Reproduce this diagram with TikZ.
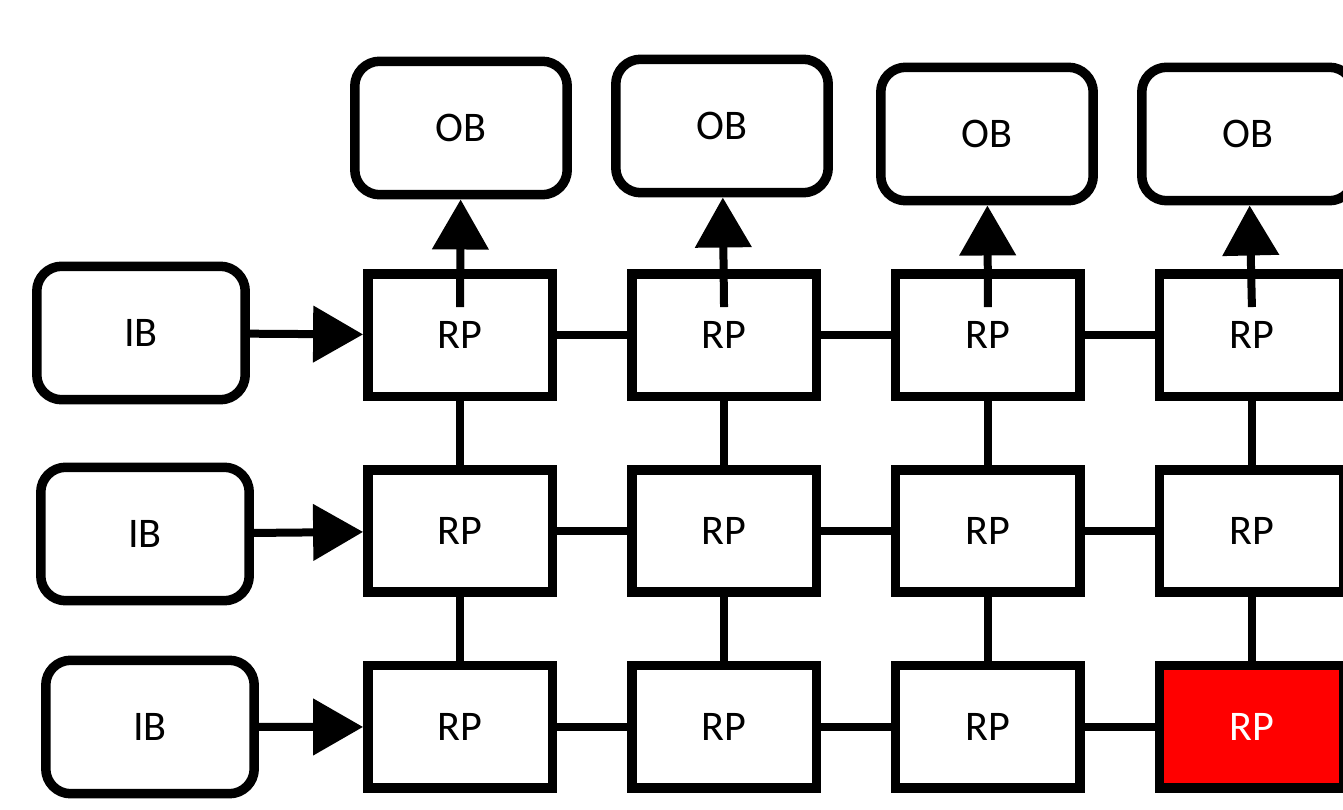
\documentclass[tikz,border=0pt]{standalone}
\usepackage{fontspec}
\setmainfont{Carlito}
\usepackage{tikz}
\usetikzlibrary{arrows.meta,matrix}

\begin{document}
\begin{tikzpicture}[x=0.02cm,y=-0.02cm,
    every node/.style={font=\fontsize{24}{28}\selectfont},
    rp/.style={draw,line width=0.19cm,minimum width=3.69cm,minimum height=2.45cm,inner sep=0pt},
    buf/.style={draw,line width=0.19cm,rounded corners=0.5cm,minimum width=4.25cm,minimum height=2.67cm},
    link/.style={line width=0.17cm},
    flow/.style={line width=0.16cm,-{Triangle[length=1cm,width=1.1cm]}}]
    \useasboundingbox (0,0) rectangle (1343,810);
    \clip (0,0) rectangle (1343,810);

    \matrix (m) [matrix of nodes,nodes={rp},column sep=1.4cm,row sep=1.28cm] at (856,531)
    {
    RP & RP & RP & RP \\
    RP & RP & RP & RP \\
    RP & RP & RP & |[fill=red,text=white]| RP \\
    };

    % output buffers
    \node[buf] (ob1) at (461,128) {OB};
    \node[buf] (ob2) at (722,126) {OB};
    \node[buf] (ob3) at (987,134) {OB};
    \node[buf] (ob4) at (1248,134) {OB};

    % input buffers
    \node[buf,minimum width=4.17cm] (ib1) at (141,333) {IB};
    \node[buf,minimum width=4.17cm] (ib2) at (145,534) {IB};
    \node[buf,minimum width=4.17cm] (ib3) at (150,727) {IB};

    \foreach \i in {1,2,3}{
        \foreach \j/\k in {1/2,2/3,3/4}
            \draw[link] (m-\i-\j) -- (m-\i-\k);
        \draw[flow] (ib\i) -- (m-\i-1);
    }
    \foreach \j in {1,...,4}{
        \draw[link] (m-1-\j) -- (m-2-\j);
        \draw[link] (m-2-\j) -- (m-3-\j);
        \draw[flow] ([yshift=-0.76cm]m-1-\j.north) -- (ob\j);
    }
\end{tikzpicture}
\end{document}
